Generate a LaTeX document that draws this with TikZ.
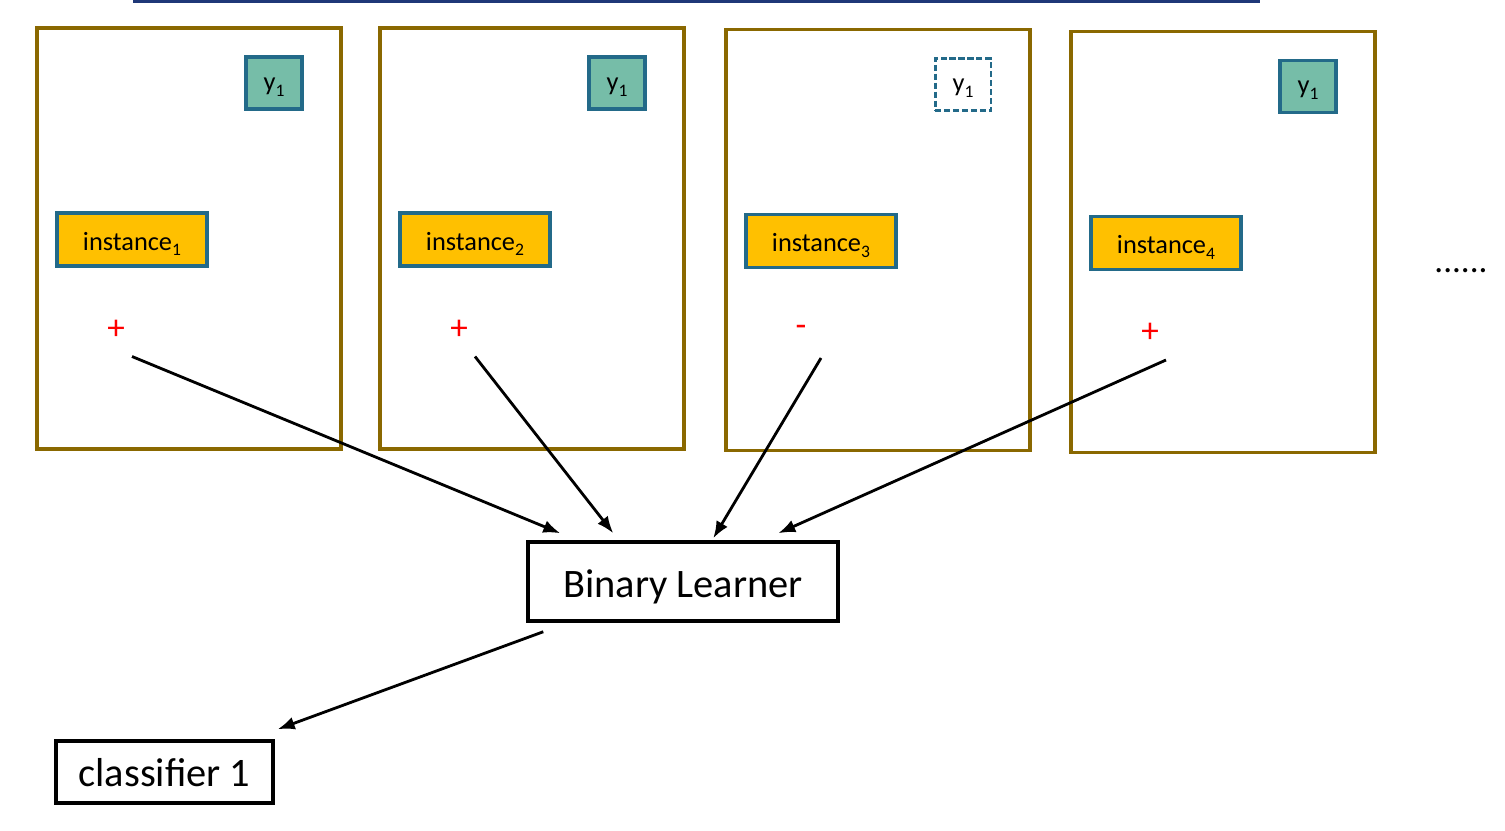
\documentclass[tikz,border=0pt]{standalone}
\usepackage{fontspec}
\setmainfont{Carlito}
\usetikzlibrary{calc,arrows.meta,positioning}
\definecolor{panelgold}{RGB}{138,104,0}
\definecolor{boxblue}{RGB}{35,106,137}
\definecolor{labelteal}{RGB}{118,189,168}
\definecolor{instorange}{RGB}{255,192,0}
\definecolor{titleblue}{RGB}{31,56,120}
\newcommand{\lowidx}[1]{\raisebox{-0.45ex}{\fontsize{10}{12}\selectfont #1}}
\tikzstyle{panel} = [draw=panelgold,line width=2pt,minimum width=6.08cm,minimum height=8.42cm]
\tikzstyle{ybox} = [draw=boxblue,fill=labelteal,line width=1.9pt,minimum width=1.12cm,minimum height=1.04cm,inner sep=0pt,text height=8.5pt,text depth=0pt,font=\fontsize{15}{18}\selectfont]
\tikzstyle{yboxmissing} = [draw=boxblue,dash pattern=on 3.5pt off 1.6pt,line width=1.7pt,minimum width=1.12cm,minimum height=1.04cm,inner sep=0pt,text height=8.5pt,text depth=0pt,font=\fontsize{15}{18}\selectfont]
\tikzstyle{instance} = [draw=boxblue,fill=instorange,line width=1.9pt,minimum width=3cm,minimum height=1.06cm,inner sep=0pt,text height=12pt,text depth=0pt,font=\fontsize{15}{18}\selectfont]
\tikzstyle{sign} = [text=red,inner sep=0pt,font=\fontsize{20}{24}\selectfont]
\tikzstyle{learner} = [draw,line width=2pt,minimum width=6.2cm,minimum height=1.58cm,inner sep=0pt,text height=18pt,text depth=0pt,font=\fontsize{23}{28}\selectfont]
\tikzstyle{classifier} = [draw,line width=2pt,minimum width=4.34cm,minimum height=1.24cm,inner sep=0pt,text height=17pt,text depth=0pt,font=\fontsize{23}{28}\selectfont]
\tikzstyle{feed} = [->,line width=1.6pt]

\begin{document}
\begin{tikzpicture}[>={Latex[length=0.34cm,width=0.26cm]},x=0.02cm,y=-0.02cm]
\useasboundingbox (0,0) rectangle (1505,831);
% title rule, cut by the top edge
\draw[titleblue,line width=3pt] (133,0) -- (1260,0);
% learner and its output
\node[learner] at (683,581.5) (learner) {Binary Learner};
\node[classifier] at (164.5,772) (classifier1) {classifier 1};
%%% Draw panels 1..4
\foreach \n/\px/\py/\s/\sx/\ys/\ex/\ey in {1/189/238.5/+/-16/ybox/34/-7,
                                           2/532/238.5/+/-16/ybox/87/-7,
                                           3/878/240/-/-20/yboxmissing/187/-2,
                                           4/1223/242/+/-16/ybox/252/-7} {
    \node[panel] at (\px,\py) (panel\n) {};
    \node[\ys] at ($(panel\n.center)+(85,-155.5)$) (y\n) {y\lowidx{1}};
    \node[instance] at ($(panel\n.center)+(-57,1)$) (inst\n) {instance\lowidx{\n}};
    \node[sign] at ($(inst\n.center)+(\sx,90)$) (sign\n) {\s};
    % free end of the arrow under the sign
    \coordinate (from\n) at ($(inst\n.center)+(0,117)$);
    \draw[feed] (from\n) -- ($(learner.north west)+(\ex,\ey)$);
}
\node[anchor=base,font=\fontsize{20}{24}\selectfont] at (1461,273) (more) {......};
\coordinate (out) at ($(learner.south west)+(17,9)$);
\draw[feed] (out) -- ($(classifier1.north east)+(3,-10)$);
\end{tikzpicture}
\end{document}
